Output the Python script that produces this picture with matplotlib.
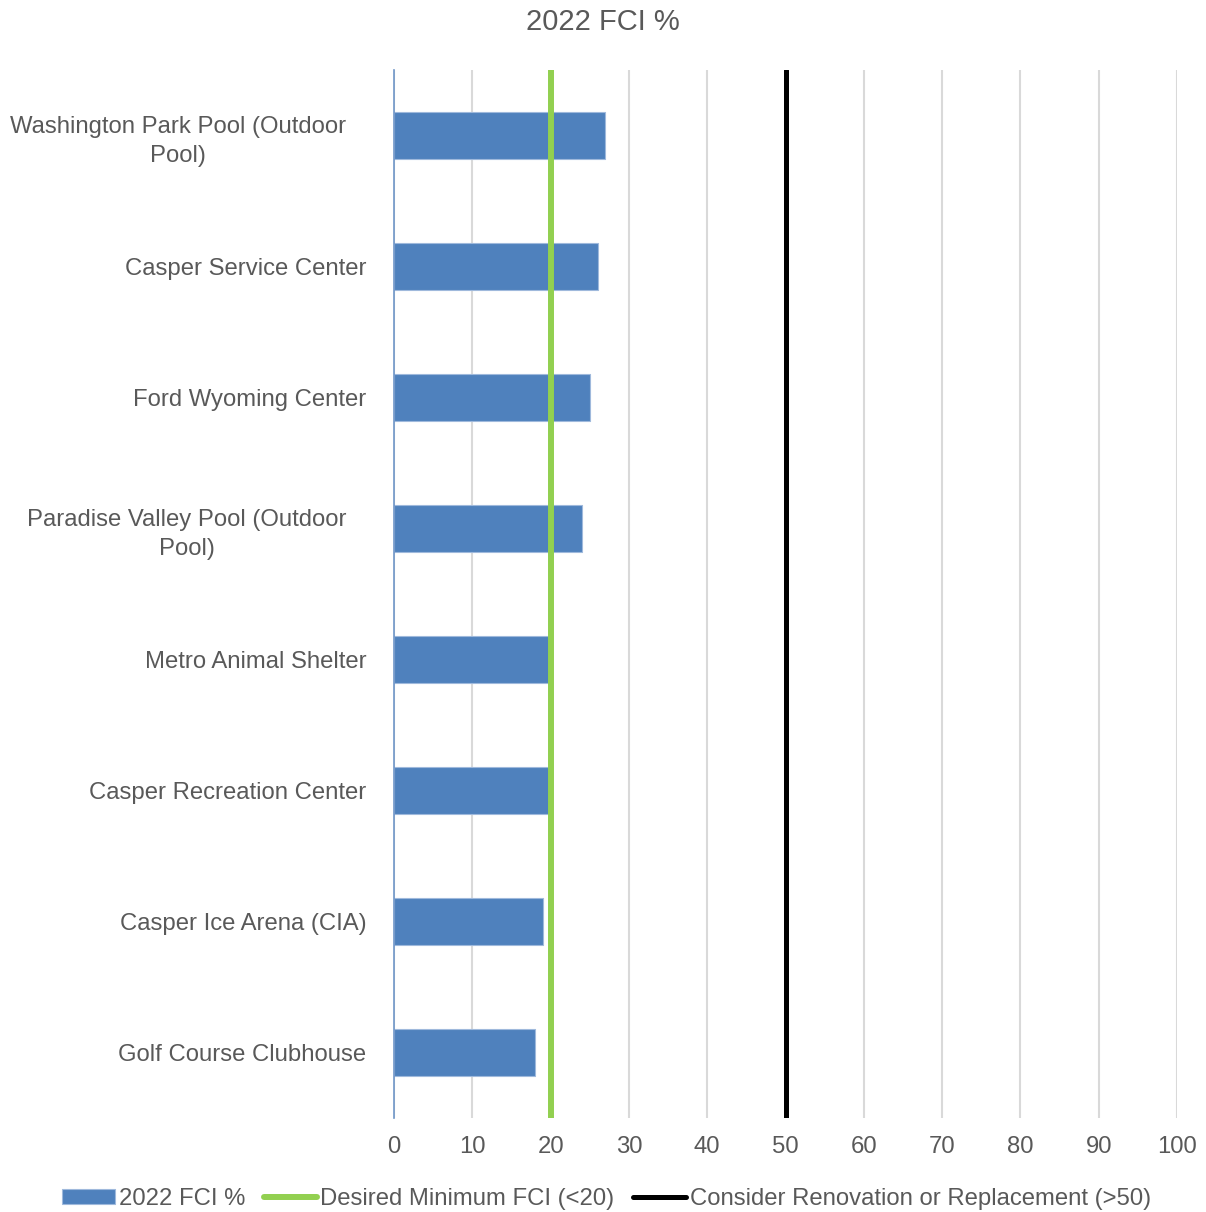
import matplotlib.pyplot as plt
import numpy as np

plt.rcParams["font.family"] = ["Liberation Sans", "DejaVu Sans"]

# FCI values per facility, top to bottom
facilities = [
    "Washington Park Pool (Outdoor   \nPool)   ",
    "Casper Service Center",
    "Ford Wyoming Center",
    "Paradise Valley Pool (Outdoor   \nPool)   ",
    "Metro Animal Shelter",
    "Casper Recreation Center",
    "Casper Ice Arena (CIA)",
    "Golf Course Clubhouse",
]
fci_2022 = [27, 26, 25, 24, 20, 20, 19, 18]

desired_min = 20
renovation_threshold = 50
x_ticks = list(range(0, 101, 10))

TEXT = "#595959"
BAR = "#4f81bd"
GREEN = "#92d050"
FS = 17.2

fig = plt.figure(figsize=(12.06, 12.12), dpi=100)
ax = fig.add_axes([0.3267, 0.0776, 0.6493, 0.8646])

y = np.arange(len(facilities))
bars = ax.barh(y, fci_2022, height=0.36, color=BAR, edgecolor="#9fb9dc",
               linewidth=0.8, zorder=2, label="2022 FCI %")

green = ax.axvline(desired_min, color=GREEN, linewidth=4.3, zorder=3,
                   solid_capstyle="round", label="Desired Minimum FCI (<20)")
black = ax.axvline(renovation_threshold, color="black", linewidth=3.6, zorder=3,
                   solid_capstyle="round",
                   label="Consider Renovation or Replacement (>50)")

ax.set_xlim(0, 100)
ax.set_ylim(len(facilities) - 0.5, -0.5)
ax.set_xticks(x_ticks)
ax.set_yticks(y)
ax.set_yticklabels(facilities, multialignment="center", linespacing=1.4)
ax.tick_params(axis="both", length=0, labelsize=FS, labelcolor=TEXT)
ax.tick_params(axis="y", pad=20)
ax.tick_params(axis="x", pad=13)

ax.grid(axis="x", color="#d9d9d9", linewidth=1.5, zorder=0)
for side in ["top", "right", "bottom"]:
    ax.spines[side].set_visible(False)
ax.spines["left"].set_color("#6f96c8")
ax.spines["left"].set_linewidth(1.2)
ax.spines["left"].set_zorder(4)

fig.suptitle("2022 FCI %", y=0.993, fontsize=21, color=TEXT)

leg = fig.legend(handles=[bars, green, black], loc="lower center",
                 bbox_to_anchor=(0.503, -0.016), ncol=3, frameon=False,
                 fontsize=FS, labelcolor=TEXT, handlelength=2.2,
                 handleheight=0.55, handletextpad=0.15, columnspacing=0.8)

fig.savefig("out.png", dpi=100)
